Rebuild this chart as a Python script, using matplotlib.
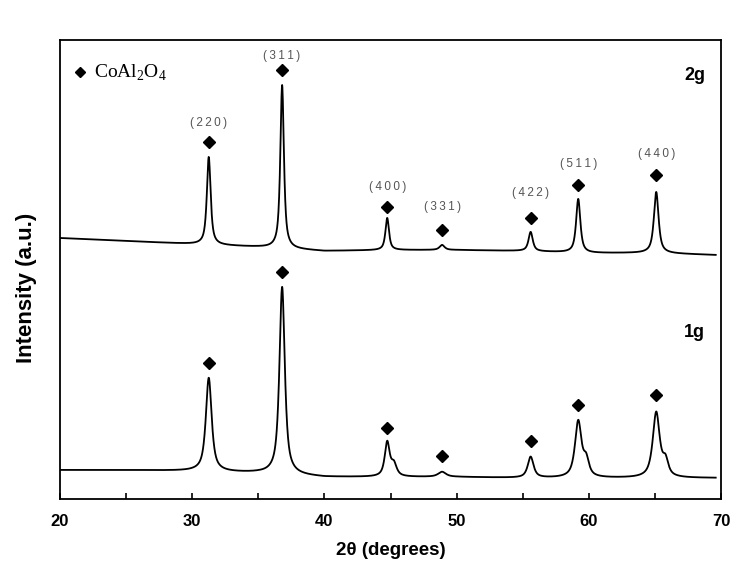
import numpy as np
from matplotlib import pyplot as plt

plt.rcParams['font.family'] = ['Liberation Sans', 'DejaVu Sans']

# 2-theta grid of the scan
two_theta = np.linspace(20, 69.6, 3000)

# baselines, read every 5 degrees (arbitrary units, stacked)
base_x = [20, 25, 30, 35, 40, 45, 50, 55, 60, 65, 69.6]
base_2g = [261, 258, 255, 252, 248, 249, 249, 248, 246, 246, 244]
base_1g = [29, 29, 28, 26, 22, 22, 22, 21, 21, 21, 21]

# CoAl2O4 reflections
hkl = ["(220)", "(311)", "(400)", "(331)", "(422)", "(511)", "(440)"]
peak_pos = [31.25, 36.8, 44.75, 48.9, 55.6, 59.2, 65.1]

# peak tops
top_2g = [342, 414, 281, 254, 267, 300, 307]
top_1g = [121, 212, 56, 27, 42, 77, 86]
fwhm_2g = [0.34, 0.32, 0.32, 0.45, 0.38, 0.38, 0.42]
fwhm_1g = [0.52, 0.48, 0.44, 0.70, 0.52, 0.58, 0.62]

# small shoulders on the high angle side of the 1g peaks
shoulder_pos = [45.25, 59.8, 65.8]
shoulder_top = [34, 37, 36]

# diamond markers and hkl labels
mark_2g = [357, 429, 292, 269, 281, 314, 324]
label_2g = [376, 443, 312, 292, 306, 335, 345]
mark_1g = [136, 227, 71, 43, 58, 94, 104]


def pseudo_voigt(x, x0, fwhm, eta=0.8):
    g = np.exp(-4 * np.log(2) * ((x - x0) / fwhm) ** 2)
    l = 1 / (1 + 4 * ((x - x0) / fwhm) ** 2)
    return eta * l + (1 - eta) * g


def pattern(base, tops, widths, extra_pos=(), extra_top=()):
    bl = np.interp(two_theta, base_x, base)
    y = bl.copy()
    for x0, t, w in zip(peak_pos, tops, widths):
        y += (t - np.interp(x0, base_x, base)) * pseudo_voigt(two_theta, x0, w)
    for x0, t in zip(extra_pos, extra_top):
        y += (t - np.interp(x0, base_x, base)) * pseudo_voigt(two_theta, x0, 0.5)
    return y


y2g = pattern(base_2g, top_2g, fwhm_2g)
y1g = pattern(base_1g, top_1g, fwhm_1g, shoulder_pos, shoulder_top)

fig = plt.figure(figsize=(7.43, 5.65), dpi=100)
ax = fig.add_axes([0.0808, 0.1168, 0.8896, 0.8124])

ax.plot(two_theta, y2g, color="black", lw=1.3)
ax.plot(two_theta, y1g, color="black", lw=1.3)

ax.plot(peak_pos, mark_2g, "kD", ms=6)
ax.plot(peak_pos, mark_1g, "kD", ms=6)
for x0, yl, s in zip(peak_pos, label_2g, hkl):
    # the labels in the source are set with wide letter spacing
    ax.text(x0, yl, "\u2009".join(s), ha="center", va="center",
            fontsize=8.5, color="#555555")

# legend-like key in the top left corner
ax.plot([21.5], [427], "kD", ms=5.5)
ax.text(22.6, 421, "CoAl$_\\mathregular{2}$O$_\\mathregular{4}$", fontsize=14,
        family=["Liberation Serif", "DejaVu Serif"], va="baseline")

ax.text(68.0, 424, "2g", fontsize=13, fontweight="bold", ha="center", va="center")
ax.text(68.0, 167, "1g", fontsize=13, fontweight="bold", ha="center", va="center")

ax.set_xlim(20, 70)
ax.set_ylim(0, 459)
ax.set_xticks([20, 30, 40, 50, 60, 70])
ax.set_xticks([25, 35, 45, 55, 65], minor=True)
ax.set_yticks([])
ax.tick_params(axis="x", which="both", direction="in", length=4, width=1.2,
               labelsize=12, pad=11)
for lab in ax.get_xticklabels():
    lab.set_fontweight("bold")
for sp in ax.spines.values():
    sp.set_linewidth(1.3)

ax.set_xlabel("2θ (degrees)", fontsize=13.5, fontweight="bold", labelpad=9)
ax.set_ylabel("Intensity (a.u.)", fontsize=16, fontweight="bold")
ax.yaxis.set_label_coords(-0.035, 0.46)

fig.savefig("out.png", dpi=100)
